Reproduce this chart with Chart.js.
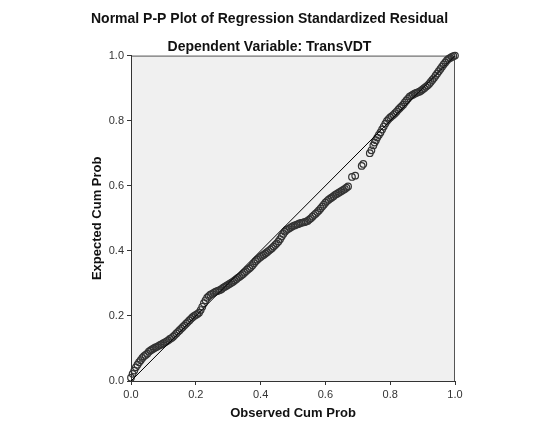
<!DOCTYPE html>
<html>
<head>
<meta charset="utf-8">
<script src="https://cdn.jsdelivr.net/npm/chart.js@4/dist/chart.umd.min.js"></script>
<style>
  html,body{margin:0;padding:0;background:#fff;}
  #wrap{width:540px;height:432px;}
</style>
</head>
<body>
<div id="wrap"><canvas id="pp"></canvas></div>
<script>
// ---------- data ----------
const titleText = 'Normal P-P Plot of Regression Standardized Residual';
const subtitleText = 'Dependent Variable: TransVDT';
const xTitle = 'Observed Cum Prob';
const yTitle = 'Expected Cum Prob';
const axisTicks = [0, 0.2, 0.4, 0.6, 0.8, 1.0];

// observed cumulative probability of each residual
const obsProb = [
  0.000,0.005,0.010,0.015,0.020,0.025,0.030,0.035,0.040,0.045,
  0.050,0.055,0.060,0.065,0.070,0.075,0.080,0.085,0.090,0.095,
  0.100,0.105,0.110,0.115,0.120,0.125,0.130,0.135,0.140,0.145,
  0.150,0.155,0.160,0.165,0.170,0.175,0.180,0.185,0.190,0.195,
  0.200,0.205,0.210,0.215,0.220,0.225,0.230,0.235,0.240,0.245,
  0.250,0.255,0.260,0.265,0.270,0.275,0.280,0.285,0.290,0.295,
  0.300,0.305,0.310,0.315,0.320,0.325,0.330,0.335,0.340,0.345,
  0.350,0.355,0.360,0.365,0.370,0.375,0.380,0.385,0.390,0.395,
  0.400,0.405,0.410,0.415,0.420,0.425,0.430,0.435,0.440,0.445,
  0.450,0.455,0.460,0.465,0.470,0.475,0.480,0.485,0.490,0.495,
  0.500,0.505,0.510,0.515,0.520,0.525,0.530,0.535,0.540,0.545,
  0.550,0.555,0.560,0.565,0.570,0.575,0.580,0.585,0.590,0.595,
  0.600,0.605,0.610,0.615,0.620,0.625,0.630,0.635,0.640,0.645,
  0.650,0.655,0.660,0.665,0.670,
  0.682,0.692,0.712,0.717,0.737,0.742,0.748,0.752,0.756,0.760,
  0.765,0.770,0.775,0.780,0.785,0.790,0.795,0.800,0.805,0.810,
  0.815,0.820,0.825,0.830,0.835,0.840,0.845,0.850,0.855,0.860,
  0.865,0.870,0.875,0.880,0.885,0.890,0.895,0.900,0.905,0.910,
  0.915,0.920,0.925,0.930,0.935,0.940,0.945,0.950,0.955,0.960,
  0.965,0.970,0.975,0.980,0.985,0.990,0.995,1.000
];
// expected cumulative probability under normality
const expProb = [
  0.010,0.022,0.032,0.042,0.050,0.058,0.064,0.071,0.076,0.080,
  0.084,0.090,0.094,0.097,0.100,0.103,0.105,0.108,0.111,0.113,
  0.116,0.119,0.122,0.125,0.129,0.132,0.136,0.141,0.146,0.151,
  0.156,0.161,0.166,0.171,0.176,0.181,0.186,0.191,0.196,0.200,
  0.203,0.206,0.210,0.218,0.228,0.239,0.248,0.256,0.261,0.265,
  0.268,0.271,0.274,0.276,0.278,0.280,0.283,0.287,0.290,0.293,
  0.296,0.299,0.302,0.305,0.309,0.313,0.317,0.320,0.324,0.328,
  0.333,0.337,0.342,0.346,0.350,0.356,0.362,0.368,0.373,0.377,
  0.381,0.385,0.388,0.392,0.396,0.400,0.404,0.408,0.413,0.418,
  0.423,0.429,0.436,0.444,0.452,0.459,0.464,0.467,0.470,0.473,
  0.476,0.478,0.480,0.482,0.484,0.486,0.487,0.488,0.490,0.492,
  0.496,0.500,0.505,0.510,0.514,0.519,0.524,0.530,0.536,0.542,
  0.548,0.553,0.557,0.561,0.564,0.568,0.572,0.575,0.578,0.581,
  0.584,0.587,0.590,0.594,0.598,
  0.627,0.631,0.661,0.667,0.700,0.709,0.724,0.733,0.740,0.748,
  0.756,0.764,0.773,0.782,0.791,0.799,0.805,0.810,0.814,0.818,
  0.823,0.828,0.834,0.839,0.844,0.849,0.856,0.862,0.868,0.874,
  0.877,0.880,0.883,0.885,0.887,0.889,0.892,0.896,0.900,0.904,
  0.908,0.913,0.919,0.925,0.931,0.938,0.945,0.952,0.959,0.966,
  0.973,0.979,0.985,0.990,0.993,0.996,0.998,1.000
];
// reference diagonal
const diagX = [0, 1];
const diagY = [0, 1];

const points = (xs, ys) => xs.map((x, i) => ({x, y: ys[i]}));

// ---------- plot area background + frame ----------
const plotFrame = {
  id: 'plotFrame',
  beforeDraw(chart) {
    const {ctx, chartArea: a} = chart;
    ctx.save();
    ctx.fillStyle = '#f0f0f0';
    ctx.fillRect(a.left, a.top, a.right - a.left, a.bottom - a.top);
    ctx.strokeStyle = '#555';
    ctx.lineWidth = 1;
    ctx.beginPath();
    ctx.moveTo(a.left, a.top + 0.5);
    ctx.lineTo(a.right - 0.5, a.top + 0.5);
    ctx.lineTo(a.right - 0.5, a.bottom);
    ctx.stroke();
    ctx.restore();
  }
};

const FONT = '"Liberation Sans", Arial, sans-serif';

function axisConf(titleText, pad, size) {
  return {
    type: 'linear', min: 0, max: 1,
    afterBuildTicks: s => { s.ticks = axisTicks.map(v => ({value: v})); },
    afterFit: s => { if (s.isHorizontal()) s.height = size; else s.width = size; },
    title: {display: true, text: titleText, color: '#111',
            font: {family: FONT, size: 13, weight: 'bold'}, padding: pad},
    grid: {drawOnChartArea: false, drawTicks: true, tickLength: 4, color: '#333'},
    border: {display: true, color: '#333', width: 1},
    ticks: {color: '#333', padding: 3, font: {family: FONT, size: 11},
            maxRotation: 0, callback: v => Number(v).toFixed(1)}
  };
}

new Chart(document.getElementById('pp').getContext('2d'), {
  type: 'scatter',
  data: {
    datasets: [
      {type: 'line', label: 'diag', data: points(diagX, diagY), borderColor: '#000',
       borderWidth: 1, pointRadius: 0, fill: false, order: 0},
      {label: 'residuals', data: points(obsProb, expProb), pointStyle: 'circle',
       pointRadius: 3.3, borderColor: '#333', backgroundColor: 'rgba(0,0,0,0)',
       borderWidth: 1.2, clip: false, order: 1}
    ]
  },
  options: {
    animation: false, responsive: true, maintainAspectRatio: false,
    layout: {padding: {left: 84, right: 85, top: 0, bottom: 6}},
    scales: {
      x: axisConf(xTitle, {top: 0, bottom: 5}, 45),
      y: axisConf(yTitle, {top: 6, bottom: 0}, 47)
    },
    plugins: {
      legend: {display: false},
      tooltip: {enabled: false},
      title: {display: true, text: titleText, color: '#111',
              font: {family: FONT, size: 14, weight: 'bold'}, padding: {top: 11, bottom: 11}},
      subtitle: {display: true, text: subtitleText, color: '#111',
                 font: {family: FONT, size: 14, weight: 'bold'}, padding: {top: 0, bottom: 0}}
    }
  },
  plugins: [plotFrame]
});
</script>
</body>
</html>
